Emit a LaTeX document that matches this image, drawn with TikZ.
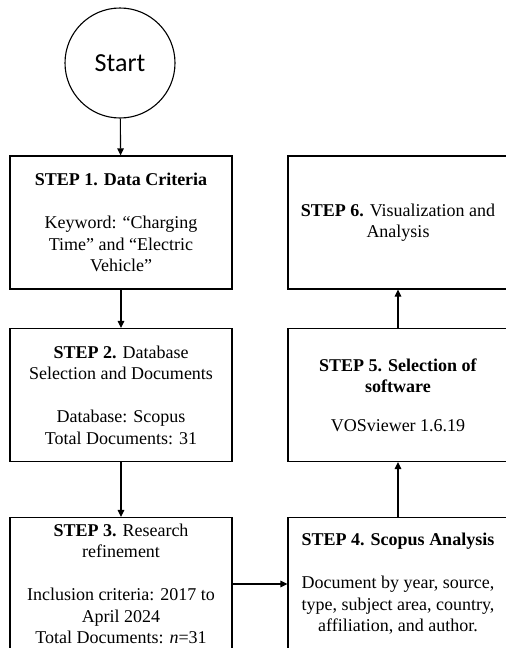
\documentclass[tikz,border=0pt]{standalone}
\usepackage{fontspec}
\setmainfont{Liberation Serif}
\newfontfamily\startfont{Carlito}
\usetikzlibrary{arrows.meta}
\begin{document}
\begin{tikzpicture}[x=1pt,y=-1pt,
  stepbox/.style={draw, line width=1.1pt, minimum width=222pt, minimum height=133pt,
    align=center, inner sep=0pt,
    font=\fontsize{18}{21.5}\selectfont},
  flow/.style={line width=1.1pt, -{Triangle[length=7pt,width=6.5pt]}},
  startnode/.style={draw, circle, line width=1.1pt, minimum size=110pt, inner sep=0pt,
    font=\startfont\fontsize{26}{30}\selectfont}]
  \useasboundingbox (0,0) rectangle (506,648);
  \clip (0,0) rectangle (506,648);

  \node[startnode] (start) at (120,63) {Start};

  \node[stepbox] (s1) at (121,222.5) {\textbf{STEP 1. Data Criteria}\\[21.5pt]
    Keyword: “Charging\\Time” and “Electric\\Vehicle”};
  \node[stepbox] (s2) at (121,395) {\textbf{STEP 2.} Database\\Selection and Documents\\[21.5pt]
    Database: Scopus\\Total Documents: 31};
  \node[stepbox] (s3) at (121,584) {\textbf{STEP 3.} Research\\refinement\\[21.5pt]
    Inclusion criteria: 2017 to\\April 2024\\Total Documents: \textit{n}=31};

  \node[stepbox, minimum width=220pt] (s4) at (398,584) {\textbf{STEP 4. Scopus Analysis}\\[21.5pt]
    Document by year, source,\\type, subject area, country,\\affiliation, and author.};
  \node[stepbox, minimum width=220pt] (s5) at (398,395) {\textbf{STEP 5. Selection of}\\\textbf{software}\\[17pt]
    VOSviewer 1.6.19};
  \node[stepbox, minimum width=220pt] (s6) at (398,222.5) {\textbf{STEP 6.} Visualization and\\Analysis};

  \draw[flow] (start) -- (s1);
  \draw[flow] (s1) -- (s2);
  \draw[flow] (s2) -- (s3);
  \draw[flow] (s3) -- (s4);
  \draw[flow] (s4) -- (s5);
  \draw[flow] (s5) -- (s6);
\end{tikzpicture}
\end{document}
